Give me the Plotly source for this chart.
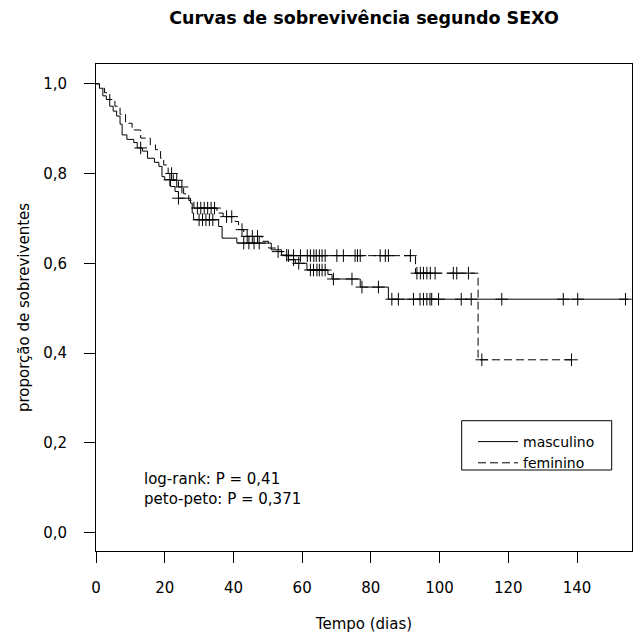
import numpy as np
import plotly.graph_objects as go

# ---------------- data ----------------
masc_times = [0, 1, 2, 3, 4, 5, 6, 7, 7.6, 9, 11, 12, 13.5, 15, 17, 18.3, 19.2, 20, 21.7,
              23, 24, 27.5, 28, 28.4, 35.7, 36.7, 41, 51, 54, 56, 58, 61.4, 67.5, 68.7, 76.9, 85.1]
masc_surv = [1.0, 0.99, 0.973, 0.965, 0.95, 0.939, 0.928, 0.91, 0.886, 0.876, 0.869, 0.857, 0.85,
             0.834, 0.825, 0.816, 0.793, 0.786, 0.771, 0.76, 0.745, 0.734, 0.712, 0.697, 0.682,
             0.656, 0.645, 0.63, 0.618, 0.608, 0.60, 0.585, 0.575, 0.565, 0.547, 0.52]
masc_cens = [13, 21.5, 24, 30, 31, 32, 33, 34, 43, 44.5, 46, 47.5, 55.5, 57.5, 59, 62.4, 63.3,
             64.3, 65, 65.8, 66.7, 69.1, 74.5, 77.4, 82.2, 86.1, 88, 92.4, 94.3, 95.3, 96.3,
             97.2, 97.7, 99.7, 106.3, 109.2, 118.1, 136, 140.2, 154.1]
masc_end = 155.0

fem_times = [0, 1, 2.5, 4, 5.5, 7, 8.6, 10.5, 13, 15.8, 17.3, 18.8, 19.7, 21, 22.5, 24, 25.5, 27,
             28.5, 35.2, 37, 40.5, 41.5, 43, 48.3, 50.2, 52.7, 55, 93, 111.2]
fem_surv = [1.0, 0.99, 0.98, 0.965, 0.95, 0.932, 0.912, 0.897, 0.879, 0.864, 0.853, 0.834, 0.819,
            0.80, 0.785, 0.77, 0.755, 0.74, 0.723, 0.712, 0.704, 0.693, 0.675, 0.66, 0.649, 0.634,
            0.626, 0.617, 0.578, 0.385]
fem_cens = [22, 23.5, 25, 29.5, 30.5, 31.5, 32.5, 33.5, 34.5, 38, 39.5, 42.5, 44, 45.5, 47,
            53, 56, 57.5, 59.5, 61.5, 62.4, 63.4, 64.1, 65, 65.8, 66.7, 70.1, 72, 75.4, 76.1,
            76.9, 82.7, 84.2, 85.1, 91.5, 93.4, 94.4, 95.3, 96.3, 97.3, 98.7, 104, 105, 108.4,
            112.3, 138.4]
fem_end = 138.4

x_ticks = [0, 20, 40, 60, 80, 100, 120, 140]
x_labels = ["0", "20", "40", "60", "80", "100", "120", "140"]
y_ticks = [0.0, 0.2, 0.4, 0.6, 0.8, 1.0]
y_labels = ["0,0", "0,2", "0,4", "0,6", "0,8", "1,0"]

series_names = ["masculino", "feminino"]
title_text = "Curvas de sobrevivência segundo SEXO"
x_title = "Tempo (dias)"
y_title = "proporção de sobreviventes"
test_lines = ["log-rank: P = 0,41", "peto-peto: P = 0,371"]

FONT = "DejaVu Sans"


def step_xy(times, surv, end):
    return list(times) + [end], list(surv) + [surv[-1]]


def surv_at(times, surv, t):
    idx = np.searchsorted(np.array(times), np.array(t), side="right") - 1
    return np.array(surv)[idx]


fig = go.Figure()
for times, surv, cens, end, name, dash in [
    (masc_times, masc_surv, masc_cens, masc_end, series_names[0], "solid"),
    (fem_times, fem_surv, fem_cens, fem_end, series_names[1], "8px,4px"),
]:
    xs, ys = step_xy(times, surv, end)
    fig.add_trace(go.Scatter(x=xs, y=ys, mode="lines", name=name,
                             line=dict(color="black", width=1, dash=dash, shape="hv")))
    fig.add_trace(go.Scatter(x=cens, y=surv_at(times, surv, cens), mode="markers",
                             showlegend=False, hoverinfo="skip",
                             marker=dict(symbol="cross-thin", size=9, color="black",
                                         line=dict(color="black", width=1))))

axis_common = dict(showline=True, linecolor="black", linewidth=1, mirror=True,
                   ticks="outside", ticklen=11, tickcolor="black", tickwidth=1,
                   showgrid=False, zeroline=False,
                   tickfont=dict(family=FONT, size=15, color="black"))

fig.update_layout(
    width=634, height=640,
    margin=dict(l=96, r=2, t=64, b=89),
    paper_bgcolor="white", plot_bgcolor="white",
    title=dict(text=title_text, x=0.5, xref="paper", y=1 - 18 / 640, yanchor="middle",
               font=dict(family=FONT, size=17.5, color="black", weight="bold")),
    xaxis=dict(range=[0, 156], tickvals=x_ticks, ticktext=x_labels,
               ticklabelstandoff=12,
               title=dict(text=x_title, standoff=22, font=dict(family=FONT, size=15, color="black")),
               **axis_common),
    yaxis=dict(range=[-0.041, 1.044], tickvals=y_ticks, ticktext=y_labels,
               ticklabelstandoff=14,
               title=dict(text=y_title, standoff=9, font=dict(family=FONT, size=15, color="black")),
               **axis_common),
    legend=dict(x=(473 - 96) / 536, y=(551 - 426) / 487, xanchor="left", yanchor="top",
                bgcolor="rgba(0,0,0,0)", borderwidth=0,
                font=dict(family=FONT, size=14, color="black"), itemwidth=40,
                tracegroupgap=0),
    shapes=[dict(type="rect", xref="paper", yref="paper",
                 x0=(461.7 - 96) / 536, x1=(611.7 - 96) / 536,
                 y0=(551 - 470) / 487, y1=(551 - 420.7) / 487,
                 line=dict(color="black", width=1))],
    annotations=[
        dict(text=test_lines[0] + "<br>" + test_lines[1], xref="paper", yref="paper",
             x=(141.7 - 96) / 536, y=(551 - 488.5) / 487, xanchor="left", yanchor="middle",
             align="left", showarrow=False,
             font=dict(family=FONT, size=15, color="black")),
    ],
)

fig.write_html("out.html")
